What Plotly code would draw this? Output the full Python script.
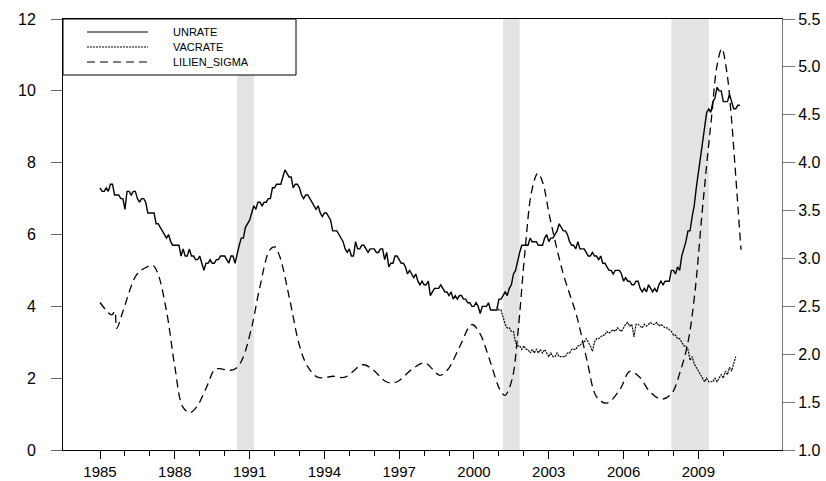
import plotly.graph_objects as go

# ---------------- data ----------------
UNRATE_START = 1985.0
unrate = [
    7.3, 7.2, 7.2, 7.3, 7.2, 7.4, 7.4, 7.1, 7.1, 7.1, 7.0, 7.0,
    6.7, 7.2, 7.2, 7.1, 7.2, 7.2, 7.0, 6.9, 7.0, 7.0, 6.9, 6.6,
    6.6, 6.6, 6.6, 6.3, 6.3, 6.2, 6.1, 6.0, 5.9, 6.0, 5.8, 5.7,
    5.7, 5.7, 5.7, 5.4, 5.6, 5.4, 5.4, 5.6, 5.4, 5.4, 5.3, 5.3,
    5.4, 5.2, 5.0, 5.2, 5.2, 5.3, 5.2, 5.2, 5.3, 5.3, 5.4, 5.4,
    5.4, 5.3, 5.2, 5.4, 5.4, 5.2, 5.5, 5.7, 5.9, 5.9, 6.2, 6.3,
    6.4, 6.6, 6.8, 6.7, 6.9, 6.9, 6.8, 6.9, 6.9, 7.0, 7.0, 7.3,
    7.3, 7.4, 7.4, 7.4, 7.6, 7.8, 7.7, 7.6, 7.6, 7.3, 7.4, 7.4,
    7.3, 7.1, 7.0, 7.1, 7.1, 7.0, 6.9, 6.8, 6.7, 6.8, 6.6, 6.5,
    6.6, 6.6, 6.5, 6.4, 6.1, 6.1, 6.1, 6.0, 5.9, 5.8, 5.6, 5.5,
    5.6, 5.4, 5.4, 5.8, 5.6, 5.6, 5.7, 5.7, 5.6, 5.5, 5.6, 5.6,
    5.6, 5.5, 5.5, 5.6, 5.6, 5.3, 5.5, 5.1, 5.2, 5.2, 5.4, 5.4,
    5.3, 5.2, 5.2, 5.1, 4.9, 5.0, 4.9, 4.8, 4.9, 4.7, 4.6, 4.7,
    4.6, 4.6, 4.7, 4.3, 4.4, 4.5, 4.5, 4.5, 4.6, 4.5, 4.4, 4.4,
    4.3, 4.4, 4.2, 4.3, 4.2, 4.3, 4.3, 4.2, 4.2, 4.1, 4.1, 4.0,
    4.0, 4.1, 4.0, 3.8, 4.0, 4.0, 4.0, 4.1, 3.9, 3.9, 3.9, 3.9,
    4.2, 4.2, 4.3, 4.4, 4.3, 4.5, 4.6, 4.9, 5.0, 5.3, 5.5, 5.7,
    5.7, 5.7, 5.7, 5.9, 5.8, 5.8, 5.8, 5.7, 5.7, 5.7, 5.9, 6.0,
    5.8, 5.9, 5.9, 6.0, 6.1, 6.3, 6.2, 6.1, 6.1, 6.0, 5.8, 5.7,
    5.7, 5.6, 5.8, 5.6, 5.6, 5.6, 5.5, 5.4, 5.4, 5.5, 5.4, 5.4,
    5.3, 5.4, 5.2, 5.2, 5.1, 5.0, 5.0, 4.9, 5.0, 5.0, 5.0, 4.9,
    4.7, 4.8, 4.7, 4.7, 4.6, 4.6, 4.7, 4.7, 4.5, 4.4, 4.5, 4.4,
    4.6, 4.5, 4.4, 4.5, 4.4, 4.6, 4.7, 4.6, 4.7, 4.7, 4.7, 5.0,
    5.0, 4.9, 5.1, 5.0, 5.4, 5.6, 5.8, 6.1, 6.1, 6.5, 6.8, 7.3,
    7.7, 8.2, 8.6, 8.9, 9.4, 9.5, 9.4, 9.7, 9.8, 10.1, 10.0, 10.0,
    9.7, 9.7, 9.7, 9.9, 9.7, 9.5, 9.5, 9.6, 9.6,
]

VACRATE_START = 2000 + 11 / 12
vacrate = [
    4.0,
    3.9, 3.9, 3.7, 3.5, 3.4, 3.4, 3.3, 3.3, 3.0, 2.9, 2.9, 2.8,
    2.9, 2.8, 2.8, 2.7, 2.8, 2.7, 2.8, 2.7, 2.8, 2.7, 2.8, 2.7,
    2.6, 2.7, 2.6, 2.6, 2.7, 2.6, 2.6, 2.6, 2.6, 2.7, 2.7, 2.8,
    2.8, 2.8, 2.9, 2.9, 3.0, 3.0, 3.1, 3.0, 2.9, 2.75, 3.0, 3.1,
    3.1, 3.15, 3.2, 3.2, 3.3, 3.25, 3.3, 3.35, 3.3, 3.4, 3.35, 3.3,
    3.4, 3.5, 3.55, 3.45, 3.5, 3.15, 3.5, 3.5, 3.45, 3.4, 3.5, 3.45,
    3.5, 3.55, 3.5, 3.5, 3.55, 3.45, 3.5, 3.45, 3.4, 3.4, 3.35, 3.3,
    3.2, 3.2, 3.1, 3.1, 3.0, 2.9, 2.9, 2.8, 2.5, 2.6, 2.4, 2.3,
    2.2, 2.1, 2.0, 1.9, 2.0, 1.9, 1.9, 1.9, 2.0, 1.9, 2.0, 2.1,
    2.0, 2.2, 2.1, 2.3, 2.2, 2.4, 2.6,
]

lilien_dates = [
    1985.0, 1985.47, 1985.59, 1985.67, 1985.91, 1986.47, 1986.87, 1987.11,
    1987.31, 1987.68, 1988.0, 1988.32, 1988.6, 1988.88, 1989.28, 1989.6,
    1989.8, 1990.2, 1990.49, 1990.73, 1991.09, 1991.41, 1991.81, 1992.01,
    1992.21, 1992.61, 1993.01, 1993.33, 1993.73, 1994.1, 1994.34, 1994.82,
    1995.54, 1995.94, 1996.5, 1996.9, 1997.5, 1998.02, 1998.63, 1998.95,
    1999.43, 1999.91, 2000.23, 2000.63, 2001.04, 2001.24, 2001.52, 2001.76,
    2002.04, 2002.32, 2002.56, 2002.76, 2003.04, 2003.57, 2004.13, 2004.53,
    2004.93, 2005.33, 2005.85, 2006.25, 2006.65, 2007.05, 2007.53, 2007.93,
    2008.25, 2008.58, 2008.86, 2009.14, 2009.38, 2009.54, 2009.74, 2009.94,
    2010.14, 2010.3, 2010.46, 2010.71,
]
lilien_sigma = [
    2.54, 2.41, 2.45, 2.27, 2.44, 2.83, 2.91, 2.93,
    2.85, 2.43, 1.87, 1.45, 1.39, 1.45, 1.66, 1.84,
    1.85, 1.83, 1.86, 1.96, 2.29, 2.70, 3.09, 3.12,
    3.02, 2.57, 2.08, 1.87, 1.76, 1.76, 1.77, 1.76,
    1.89, 1.84, 1.71, 1.71, 1.84, 1.91, 1.78, 1.84,
    2.08, 2.31, 2.22, 1.94, 1.63, 1.57, 1.73, 2.22,
    3.06, 3.71, 3.89, 3.79, 3.43, 2.85, 2.39, 1.94,
    1.55, 1.49, 1.63, 1.82, 1.76, 1.61, 1.53, 1.59,
    1.80, 2.12, 2.64, 3.45, 4.1, 4.5, 5.0, 5.19,
    4.95, 4.55, 4.0, 3.09,
]

recession_start = [1990.5, 2001.17, 2007.92]
recession_end = [1991.17, 2001.83, 2009.42]

year_ticks = [1985, 1988, 1991, 1994, 1997, 2000, 2003, 2006, 2009]
year_labels = [str(y) for y in year_ticks]
minor_years = list(range(1985, 2011))
left_ticks = [0, 2, 4, 6, 8, 10, 12]
right_ticks = [1.0, 1.5, 2.0, 2.5, 3.0, 3.5, 4.0, 4.5, 5.0, 5.5]

legend_names = ["UNRATE", "VACRATE", "LILIEN_SIGMA"]

# ---------------- figure ----------------
unrate_x = [UNRATE_START + i / 12 for i in range(len(unrate))]
vac_x = [VACRATE_START + i / 12 for i in range(len(vacrate))]

FONT = "Liberation Sans, Arial, sans-serif"

fig = go.Figure()
fig.add_trace(go.Scatter(x=unrate_x, y=unrate, mode="lines", name=legend_names[0],
                         line=dict(color="black", width=1.4), yaxis="y"))
fig.add_trace(go.Scatter(x=vac_x, y=vacrate, mode="lines", name=legend_names[1],
                         line=dict(color="black", width=1.2, dash="2px,1px"), yaxis="y"))
fig.add_trace(go.Scatter(x=lilien_dates, y=lilien_sigma, mode="lines", name=legend_names[2],
                         line=dict(color="black", width=1.3, dash="8px,5px", shape="spline",
                                   smoothing=1.0), yaxis="y2"))

for s, e in zip(recession_start, recession_end):
    fig.add_shape(type="rect", xref="x", yref="paper", x0=s, x1=e, y0=0, y1=1,
                  fillcolor="#e3e3e3", line=dict(width=0), layer="below")

# manual legend box
W, H = 719, 431
def px_x(p):
    return (p - 63) / W
def px_y(p):
    return (450 - p) / H

fig.add_shape(type="rect", xref="paper", yref="paper", x0=0, x1=px_x(296),
              y0=px_y(75), y1=1, line=dict(color="black", width=1), fillcolor="white")
dashes = ["solid", "2px,1px", "8px,5px"]
rows = [32, 47, 62]
for name, d, r in zip(legend_names, dashes, rows):
    fig.add_shape(type="line", xref="paper", yref="paper", x0=px_x(87), x1=px_x(148),
                  y0=px_y(r), y1=px_y(r), line=dict(color="black", width=1.2, dash=d))
    fig.add_annotation(xref="paper", yref="paper", x=px_x(171), y=px_y(r), text=name,
                       showarrow=False, xanchor="left", yanchor="middle",
                       font=dict(family=FONT, size=11, color="black"))

fig.update_layout(
    width=826, height=481,
    margin=dict(l=63, r=44, t=19, b=31, autoexpand=False),
    paper_bgcolor="white", plot_bgcolor="white",
    showlegend=False,
    font=dict(family=FONT, color="black"),
    xaxis=dict(
        range=[1983.515, 2012.355], showgrid=False, zeroline=False, automargin=False,
        showline=True, linecolor="black", linewidth=1, mirror=True,
        tickmode="array", tickvals=year_ticks, ticktext=year_labels,
        ticks="outside", ticklen=8, tickcolor="black", tickwidth=1,
        tickfont=dict(family=FONT, size=15),
        minor=dict(tickmode="array", tickvals=minor_years, ticks="outside",
                   ticklen=5, tickcolor="black", tickwidth=1, showgrid=False),
    ),
    yaxis=dict(
        range=[0, 12], showgrid=False, zeroline=False, automargin=False,
        showline=True, linecolor="black", linewidth=1, mirror=False,
        tickmode="array", tickvals=left_ticks,
        ticks="outside", ticklen=11, tickcolor="#666", tickwidth=1,
        ticklabelstandoff=12,
        tickfont=dict(family=FONT, size=16),
    ),
    yaxis2=dict(
        range=[1.0, 5.5], overlaying="y", side="right", automargin=False,
        showgrid=False, zeroline=False,
        showline=True, linecolor="#777", linewidth=1,
        tickmode="array", tickvals=right_ticks, tickformat=".1f",
        ticks="outside", ticklen=12, tickcolor="#777", tickwidth=1,
        tickfont=dict(family=FONT, size=16),
    ),
)

fig.write_html("out.html",
               config={"displayModeBar": False},
               post_script="document.body.style.margin='0px';document.body.style.overflow='hidden';")
